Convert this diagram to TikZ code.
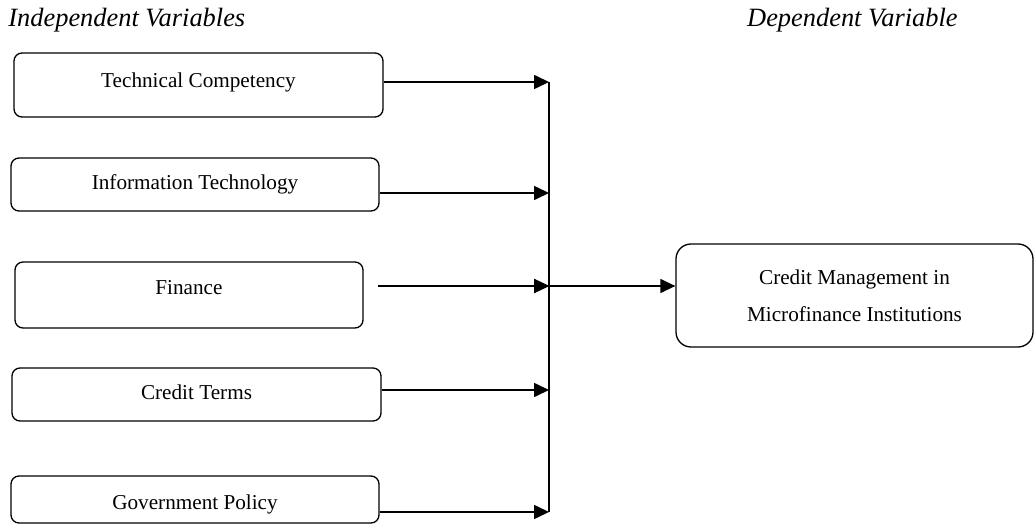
\documentclass[tikz,border=0pt]{standalone}
\usepackage{fontspec}
\setmainfont{Liberation Serif}
\usetikzlibrary{arrows.meta}

\tikzset{
  roundbox/.style={draw, line width=0.65pt, rounded corners=4pt, inner sep=0pt},
  varbox/.style={roundbox, text height=7.5pt, text depth=2.5pt, font=\fontsize{10.6}{12}\selectfont},
  heading/.style={inner sep=0pt, font=\fontsize{13.2}{15}\selectfont\itshape},
  link/.style={line width=0.85pt, -{Triangle[length=7.5pt,width=7pt]}},
  trunk/.style={line width=0.6pt},
}

\begin{document}
\begin{tikzpicture}[x=0.5pt,y=0.5pt,yscale=-1,xscale=1]
\useasboundingbox (0,0) rectangle (1035,524);

% Headings
\node[heading, anchor=west] (indep) at (8,20) {Independent Variables};
\node[heading, anchor=east] (dep) at (958,20) {Dependent Variable};

% Independent variable boxes
\node[varbox, minimum width=184.5pt, minimum height=32pt, text depth=5.1pt] (tech) at (198.5,85) {Technical Competency};
\node[varbox, minimum width=184pt, minimum height=26.5pt] (info) at (195,184.5) {Information Technology};
\node[varbox, minimum width=174pt, minimum height=33pt, text depth=8.1pt] (fin) at (189,295) {Finance};
\node[varbox, minimum width=184.5pt, minimum height=26.5pt] (terms) at (196.5,394.5) {Credit Terms};
\node[varbox, minimum width=184pt, minimum height=23.5pt, text height=12.4pt] (gov) at (195,499.5) {Government Policy};

% Dependent variable box
\node[roundbox, rounded corners=7.5pt, minimum width=178.5pt, minimum height=51.5pt, align=center,
  font=\fontsize{10.6}{18.5}\selectfont] (credit) at (854.5,295.5)
  {Credit Management in\\Microfinance Institutions};

% Joints on the collecting line
\coordinate (j1) at (549,82);
\coordinate (j2) at (549,193);
\coordinate (j3) at (549,286);
\coordinate (j4) at (549,390);
\coordinate (j5) at (549,512);
\coordinate (f0) at (378,286);
\coordinate (f1) at (503,286);

% Collecting line
\draw[trunk] (j1) -- (j5);

% Arrows into the collecting line
\draw[link] (tech.east |- j1) -- (j1);
\draw[link] (info.east |- j2) -- (j2);
\draw[link, line width=0.65pt] (f0) -- (j3);
\draw[link, line width=1.15pt] (f1) -- (j3);
\draw[link] (terms.east |- j4) -- (j4);
\draw[link] (gov.east |- j5) -- (j5);

% Arrow to dependent variable
\draw[link, line width=0.65pt] (j3) -- (credit.west |- j3);

\end{tikzpicture}
\end{document}
